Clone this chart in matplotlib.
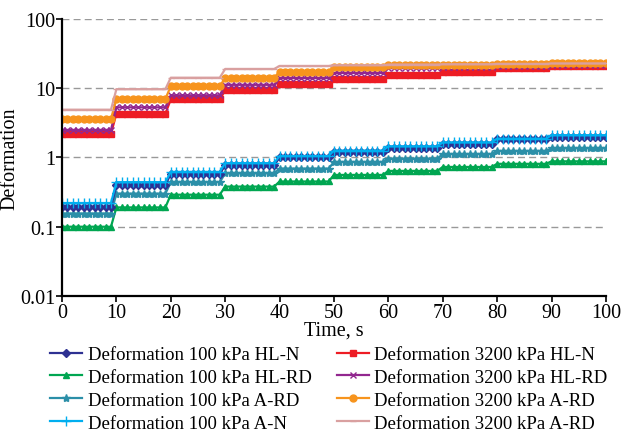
import numpy as np
import matplotlib
matplotlib.use("Agg")
import matplotlib.pyplot as plt
from matplotlib.ticker import FixedLocator, FixedFormatter, NullLocator

# time in seconds, one reading per second
time_s = np.arange(0, 101)

# plateau level for each 10 s loading step (0-9, 10-19, ..., 90-100)
hl_n_100 = [0.19, 0.40, 0.58, 0.77, 1.00, 1.20, 1.38, 1.58, 1.82, 2.00]
hl_rd_100 = [0.10, 0.19, 0.29, 0.38, 0.45, 0.56, 0.64, 0.73, 0.81, 0.88]
a_rd_100 = [0.155, 0.30, 0.44, 0.59, 0.69, 0.86, 0.96, 1.12, 1.24, 1.36]
a_n_100 = [0.22, 0.44, 0.62, 0.83, 1.05, 1.26, 1.45, 1.65, 1.87, 2.10]
hl_n_3200 = [2.2, 4.3, 6.9, 9.3, 11.6, 13.7, 15.6, 17.4, 19.4, 21.3]
hl_rd_3200 = [2.5, 5.3, 7.9, 11.2, 14.0, 16.6, 19.5, 20.5, 21.0, 21.5]
a_rd_3200 = [3.6, 7.0, 10.7, 14.1, 17.4, 20.5, 21.5, 22.0, 22.3, 22.8]
a_rd_3200_b = [4.9, 9.7, 14.2, 19.0, 21.0, 21.5, 22.0, 22.2, 22.5, 22.8]

labels = [
    "Deformation 100 kPa HL-N",
    "Deformation 100 kPa HL-RD",
    "Deformation 100 kPa A-RD",
    "Deformation 100 kPa A-N",
    "Deformation 3200 kPa HL-N",
    "Deformation 3200 kPa HL-RD",
    "Deformation 3200 kPa A-RD",
    "Deformation 3200 kPa A-RD",
]
series = [hl_n_100, hl_rd_100, a_rd_100, a_n_100,
          hl_n_3200, hl_rd_3200, a_rd_3200, a_rd_3200_b]
colors = ["#2e3192", "#00a651", "#2b8fa8", "#00aeef",
          "#ed1c24", "#92278f", "#f7941d", "#d9a0a0"]
markers = ["D", "^", "*", "+", "s", "x", "o", "_"]
msizes = [4, 5, 6, 7, 5, 5, 5, 5]

# draw order: low curves first, pink top line last
draw_order = [1, 2, 0, 3, 4, 5, 6, 7]

plt.rcParams["font.family"] = ["Liberation Serif", "DejaVu Serif"]

fig = plt.figure(figsize=(6.24, 4.31), dpi=100)
ax = fig.add_axes([0.0994, 0.311, 0.8716, 0.6426])

handles = {}
for i in draw_order:
    seg = np.minimum(time_s // 10, 9)
    vals = np.asarray(series[i])[seg]
    h, = ax.plot(time_s, vals, color=colors[i], marker=markers[i],
                 markersize=msizes[i], markeredgewidth=1.0, linewidth=1.6,
                 label=labels[i])
    handles[i] = h

ax.set_yscale("log")
ax.set_ylim(0.01, 100)
ax.set_xlim(0, 100)
ax.yaxis.set_major_locator(FixedLocator([0.01, 0.1, 1, 10, 100]))
ax.yaxis.set_major_formatter(FixedFormatter(["0.01", "0.1", "1", "10", "100"]))
ax.yaxis.set_minor_locator(NullLocator())
ax.set_xticks(np.arange(0, 101, 10))

for yv in [0.1, 1, 10, 100]:
    ax.axhline(yv, color="#999999", linestyle=(0, (5, 3)), linewidth=1.0, zorder=0)

for s in ["top", "right"]:
    ax.spines[s].set_visible(False)
for s in ["left", "bottom"]:
    ax.spines[s].set_linewidth(1.6)
ax.tick_params(axis="both", labelsize=14.5, length=4, width=1.2, pad=1)

ax.set_xlabel("Time, s", fontsize=14.5, labelpad=-1)
ax.set_ylabel("Deformation", fontsize=14.5, labelpad=0)

leg = fig.legend([handles[i] for i in range(8)], labels, ncol=2,
                 loc="upper center", bbox_to_anchor=(0.527, 0.212),
                 frameon=False, fontsize=13.5, handlelength=1.7,
                 handletextpad=0.3, columnspacing=1.35, labelspacing=0.3,
                 borderaxespad=0)

fig.savefig("out.png", dpi=100)
